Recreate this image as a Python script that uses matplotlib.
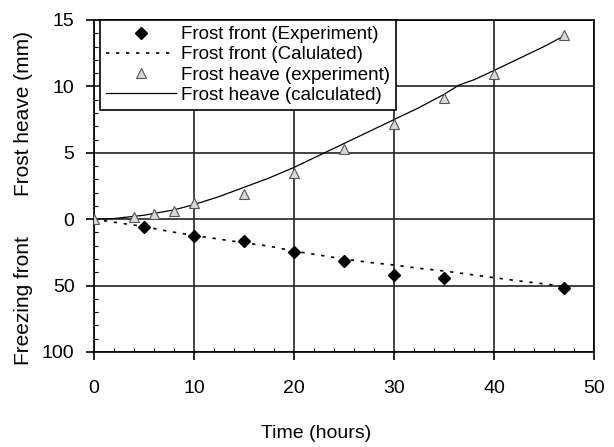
import numpy as np
import matplotlib
matplotlib.use("Agg")
import matplotlib.pyplot as plt

plt.rcParams['font.family'] = ['Liberation Sans', 'DejaVu Sans']

# frost front in mm (plotted downwards, 10 mm per axis unit)
front_exp_time = [5, 10, 15, 20, 25, 30, 35, 47]
front_exp_mm = [6.2, 12.8, 16.5, 25, 31.6, 42, 44, 51.5]

front_calc_time = [0, 2.5, 5, 7.5, 10, 12.5, 15, 17.5, 20, 22.5, 25, 27.5, 30,
                   32.5, 35, 37.5, 40, 42.5, 45, 47]
front_calc_mm = [0, 2.8, 5.5, 9.2, 12.2, 15, 17.8, 20.3, 24, 27, 30, 32.5, 34.5,
                 37, 39, 41.5, 44, 46.5, 48.7, 50.5]

# frost heave in mm
heave_exp_time = [0, 4, 6, 8, 10, 15, 20, 25, 30, 35, 40, 47]
heave_exp_mm = [0, 0.2, 0.4, 0.65, 1.2, 1.9, 3.5, 5.3, 7.2, 9.1, 10.9, 13.9]

heave_calc_time = [0, 2, 5, 8, 10, 12.5, 15, 17.5, 20, 22.5, 25, 27.5, 30,
                   32.5, 35, 36.5, 38, 40, 42.5, 45, 47]
heave_calc_mm = [0, 0.05, 0.3, 0.7, 1.1, 1.7, 2.4, 3.1, 3.9, 4.8, 5.7, 6.6, 7.5,
                 8.4, 9.4, 10.1, 10.5, 11.2, 12.1, 13.0, 13.8]

ytick_pos = [-10, -5, 0, 5, 10, 15]
ytick_labels = ['100', '50', '0', '5', '10', '15']

fig = plt.figure(figsize=(6.14, 4.47), dpi=100)
ax = fig.add_axes([94/614, 1-352/447, 500/614, 332/447])

ax.plot(front_exp_time, -np.array(front_exp_mm)/10, linestyle='none', marker='D',
        markersize=6.5, color='black', label='Frost front (Experiment)', zorder=4)
ax.plot(front_calc_time, -np.array(front_calc_mm)/10, linestyle=(0, (2, 4)),
        color='black', linewidth=1.2, label='Frost front (Calulated)', zorder=3)
ax.plot(heave_exp_time, heave_exp_mm, linestyle='none', marker='^', markersize=7,
        markerfacecolor='#d8d8d8', markeredgecolor='#555555', markeredgewidth=0.8,
        label='Frost heave (experiment)', zorder=4)
ax.plot(heave_calc_time, heave_calc_mm, color='black', linewidth=0.9,
        label='Frost heave (calculated)', zorder=3)

ax.set_xlim(0, 50)
ax.set_ylim(-10, 15)
ax.set_xticks([0, 10, 20, 30, 40, 50])
ax.set_yticks(ytick_pos)
ax.set_yticklabels(ytick_labels)
ax.set_xticks(np.arange(0, 50, 2), minor=True)
ax.set_yticks(np.arange(-10, 15, 1), minor=True)
ax.tick_params(axis='both', which='major', direction='out', length=6, width=1.2,
               labelsize=14)
ax.tick_params(axis='x', which='major', pad=14)
ax.tick_params(axis='y', which='major', pad=8)
ax.tick_params(axis='both', which='minor', direction='in', length=3, width=0.8)
ax.grid(True, which='major', color='#222222', linewidth=1.2)
for s in ax.spines.values():
    s.set_linewidth(1.2)

fig.text(24/614, 1-113/447, 'Frost heave (mm)', rotation=90, fontsize=15,
         ha='center', va='center')
fig.text(24/614, 1-301/447, 'Freezing front', rotation=90, fontsize=15,
         ha='center', va='center')
fig.text(316/614, 1-433/447, 'Time (hours)', fontsize=14, ha='center', va='center')

leg = ax.legend(loc='upper left', bbox_to_anchor=(0.012, 1.0), fontsize=13.5,
                handlelength=3.7, handletextpad=0.3, borderpad=0.33,
                labelspacing=0.16, fancybox=False, framealpha=1, borderaxespad=0)
leg.get_frame().set_edgecolor('black')
leg.get_frame().set_linewidth(1.2)

plt.savefig("out.png")
